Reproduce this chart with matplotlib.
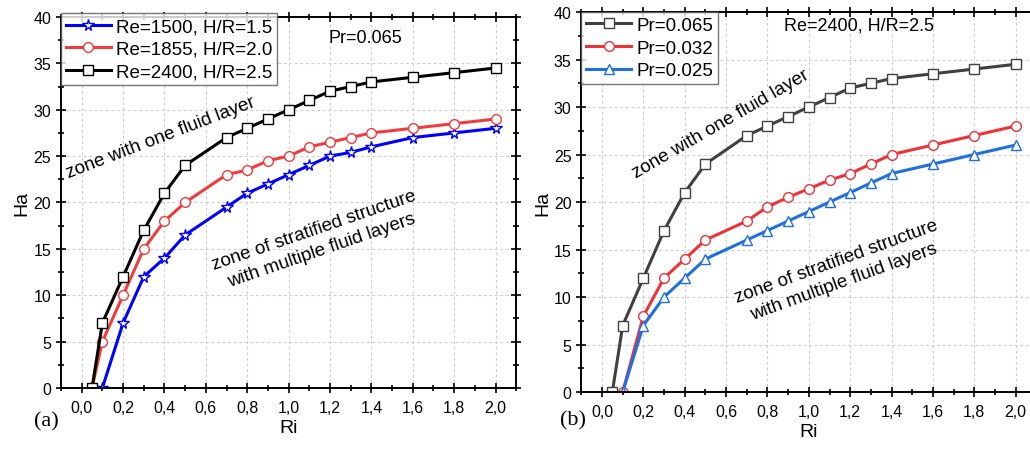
import matplotlib.pyplot as plt
import numpy as np
from matplotlib.ticker import MultipleLocator, FuncFormatter

plt.rcParams['font.family'] = ['Liberation Sans', 'DejaVu Sans']

# ---- data, panel (a)
ri_a_black = [0.05, 0.1, 0.2, 0.3, 0.4, 0.5, 0.7, 0.8, 0.9, 1.0, 1.1, 1.2, 1.3, 1.4, 1.6, 1.8, 2.0]
ha_a_black = [0, 7, 12, 17, 21, 24, 27, 28, 29, 30, 31, 32, 32.5, 33, 33.5, 34, 34.5]
ri_a_red = [0.05, 0.1, 0.2, 0.3, 0.4, 0.5, 0.7, 0.8, 0.9, 1.0, 1.1, 1.2, 1.3, 1.4, 1.6, 1.8, 2.0]
ha_a_red = [0, 5, 10, 15, 18, 20, 23, 23.5, 24.5, 25, 26, 26.5, 27, 27.5, 28, 28.5, 29]
ri_a_blue = [0.1, 0.2, 0.3, 0.4, 0.5, 0.7, 0.8, 0.9, 1.0, 1.1, 1.2, 1.3, 1.4, 1.6, 1.8, 2.0]
ha_a_blue = [0, 7, 12, 14, 16.5, 19.5, 21, 22, 23, 24, 25, 25.4, 26, 27, 27.5, 28]
labels_a = ['Re=1500, H/R=1.5', 'Re=1855, H/R=2.0', 'Re=2400, H/R=2.5']

# ---- data, panel (b)
ri_b_gray = [0.05, 0.1, 0.2, 0.3, 0.4, 0.5, 0.7, 0.8, 0.9, 1.0, 1.1, 1.2, 1.3, 1.4, 1.6, 1.8, 2.0]
ha_b_gray = [0, 7, 12, 17, 21, 24, 27, 28, 29, 30, 31, 32, 32.5, 33, 33.5, 34, 34.5]
ri_b_red = [0.1, 0.2, 0.3, 0.4, 0.5, 0.7, 0.8, 0.9, 1.0, 1.1, 1.2, 1.3, 1.4, 1.6, 1.8, 2.0]
ha_b_red = [0, 8, 12, 14, 16, 18, 19.5, 20.5, 21.4, 22.3, 23, 24, 25, 26, 27, 28]
ri_b_blue = [0.1, 0.2, 0.3, 0.4, 0.5, 0.7, 0.8, 0.9, 1.0, 1.1, 1.2, 1.3, 1.4, 1.6, 1.8, 2.0]
ha_b_blue = [0, 7, 10, 12, 14, 16, 17, 18, 19, 20, 21, 22, 23, 24, 25, 26]
labels_b = ['Pr=0.065', 'Pr=0.032', 'Pr=0.025']

comma = FuncFormatter(lambda v, p: ('%.1f' % v).replace('.', ','))

def style_axes(ax):
    ax.set_xlim(-0.1, 2.1)
    ax.set_ylim(0, 40)
    ax.xaxis.set_major_locator(MultipleLocator(0.2))
    ax.xaxis.set_minor_locator(MultipleLocator(0.1))
    ax.yaxis.set_major_locator(MultipleLocator(5))
    ax.yaxis.set_minor_locator(MultipleLocator(2.5))
    ax.xaxis.set_major_formatter(comma)
    ax.grid(True, which='major', color='#cccccc', linestyle=(0, (2.5, 2.5)), linewidth=0.8)
    ax.set_axisbelow(True)
    for s in ax.spines.values():
        s.set_linewidth(1.4)
    ax.tick_params(which='both', top=True, right=True, labelsize=11.5, width=1.2)
    ax.tick_params(which='major', direction='inout', length=7)
    ax.tick_params(which='minor', direction='inout', length=4)
    ax.tick_params(axis='x', which='both', top=True, labeltop=False, pad=5)
    ax.set_xlabel('Ri', fontsize=14, labelpad=3)
    ax.set_ylabel('Ha', fontsize=14, labelpad=2)

fig = plt.figure(figsize=(10.3, 4.52), dpi=100)
ax1 = fig.add_axes([0.0592, 0.1394, 0.442, 0.8208])
ax2 = fig.add_axes([0.5644, 0.1305, 0.4418, 0.8407])

mk = dict(markersize=7, markerfacecolor='white', markeredgewidth=1.0, linewidth=2.2)
legkw = dict(loc='upper left', fontsize=13.5, frameon=True, fancybox=False, edgecolor='#555555',
             borderpad=0.25, labelspacing=0.3, handlelength=2.4, handletextpad=0.3, borderaxespad=0.0)

ax1.plot(ri_a_blue, ha_a_blue, color='#0000ff', marker='*', markeredgecolor='#0000ff', label=labels_a[0], **dict(mk, markersize=8.5))
ax1.plot(ri_a_red, ha_a_red, color='#f03c3c', marker='o', markeredgecolor='#f03c3c', label=labels_a[1], **mk)
ax1.plot(ri_a_black, ha_a_black, color='black', marker='s', markeredgecolor='black', label=labels_a[2], **mk)
style_axes(ax1)
leg = ax1.legend(bbox_to_anchor=(0.0, 1.01), **legkw)
leg.get_frame().set_linewidth(1.0)
ax1.text(1.37, 37.8, 'Pr=0.065', fontsize=13, ha='center', va='center')
ax1.text(0.38, 27.1, 'zone with one fluid layer', fontsize=13.5, rotation=21, ha='center', va='center')
ax1.text(1.14, 16.0, 'zone of stratified structure\nwith multiple fluid layers', fontsize=13.5, rotation=19,
         ha='center', va='center', multialignment='center', linespacing=1.35)

ax2.plot(ri_b_gray, ha_b_gray, color='#404040', marker='s', markeredgecolor='#404040', label=labels_b[0], **mk)
ax2.plot(ri_b_red, ha_b_red, color='#ee3338', marker='o', markeredgecolor='#ee3338', label=labels_b[1], **mk)
ax2.plot(ri_b_blue, ha_b_blue, color='#1f6fe0', marker='^', markeredgecolor='#1f6fe0', label=labels_b[2], **mk)
style_axes(ax2)
leg2 = ax2.legend(bbox_to_anchor=(0.0, 1.0), **legkw)
leg2.get_frame().set_linewidth(1.0)
ax2.text(1.24, 38.6, 'Re=2400, H/R=2.5', fontsize=13, ha='center', va='center')
ax2.text(0.575, 28.3, 'zone with one fluid layer', fontsize=13.5, rotation=30, ha='center', va='center')
ax2.text(1.15, 12.7, 'zone of stratified structure\nwith multiple fluid layers', fontsize=13.5, rotation=20,
         ha='center', va='center', multialignment='center', linespacing=1.35)

fig.text(0.0447, 0.066, '(a)', fontsize=16, family='Liberation Serif', ha='center', va='center')
fig.text(0.556, 0.069, '(b)', fontsize=16, family='Liberation Serif', ha='center', va='center')

fig.savefig('out.png', dpi=100)
